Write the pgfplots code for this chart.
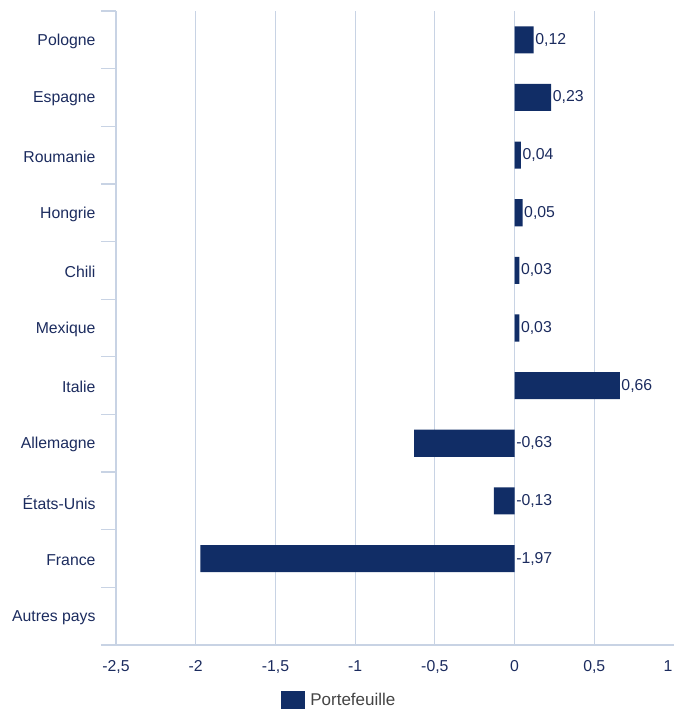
\documentclass[border=0pt]{standalone}
\usepackage{pgfplots}
\pgfplotsset{compat=1.18}
\usepackage{pgfplotstable}
\usepackage{fontspec}
\setmainfont{Liberation Sans}
\definecolor{barcol}{HTML}{112D66}
\definecolor{txtcol}{HTML}{1B2B5E}
\definecolor{gridcol}{HTML}{C8D3E4}
\definecolor{legtxt}{HTML}{444444}

\pgfplotstableread{
y val pos
10 0.12 0.12
9 0.23 0.23
8 0.04 0.04
7 0.05 0.05
6 0.03 0.03
5 0.03 0.03
4 0.66 0.66
3 -0.63 0
2 -0.13 0
1 -1.97 0
}\data

\begin{document}
\begin{tikzpicture}
\path[use as bounding box] (-116bp,-66bp) rectangle (559bp,645bp);
\begin{axis}[
  at={(0,0)}, anchor=south west,
  scale only axis, width=558bp, height=634bp,
  xmin=-2.5, xmax=1, ymin=-0.5, ymax=10.5,
  axis x line*=bottom, axis y line*=left,
  axis line style={gridcol, line width=1.2bp},
  xtick={-2.5,-2,-1.5,-1,-0.5,0,0.5,1},
  xticklabels={{-2,5},{-2},{-1,5},{-1},{-0,5},{0},{0,5},{\makebox[0pt][r]{1\hspace{1.5bp}}}},
  extra x ticks={-2,-1.5,-1,-0.5,0,0.5},
  extra x tick labels={},
  extra x tick style={grid=major, major grid style={gridcol, line width=1.2bp}, major tick length=0pt},
  ytick={0,1,2,3,4,5,6,7,8,9,10},
  yticklabels={Autres pays, France, États-Unis, Allemagne, Italie, Mexique, Chili, Hongrie, Roumanie, Espagne, Pologne},
  minor ytick={-0.5,0.5,1.5,2.5,3.5,4.5,5.5,6.5,7.5,8.5,9.5,10.5},
  major tick length=0pt,
  minor tick length=15bp,
  tick align=outside,
  ytick pos=left,
  xtick pos=bottom,
  tick style={gridcol, line width=1.2bp},
  ticklabel style={font=\fontsize{15.8bp}{19bp}\selectfont, text=txtcol},
  yticklabel style={xshift=-17bp, yshift=-1.5bp},
  xticklabel style={yshift=-12bp},
  legend style={at={(axis description cs:0.296,-0.0866)}, anchor=west, draw=none, fill=none, inner sep=0pt,
    font=\fontsize{17bp}{20bp}\selectfont, text=legtxt,
    nodes={inner xsep=5bp}},
  legend cell align=left,
  clip=false,
]
\addplot[xbar, bar width=0.47, fill=barcol, draw=none,
  legend image code/.code={\fill[barcol] (0bp,-9bp) rectangle (24bp,9bp);}]
  table[x=val, y=y] {\data};
\addlegendentry{Portefeuille}
\addplot[only marks, mark=none, forget plot, point meta=explicit,
  nodes near coords={\pgfmathprintnumber[fixed,fixed zerofill,precision=2,use comma,assume math mode=true]{\pgfplotspointmeta}},
  nodes near coords style={anchor=west, inner sep=1.5bp, font=\fontsize{15.8bp}{19bp}\selectfont, text=txtcol}]
  table[x=pos, y=y, meta=val] {\data};
\end{axis}
\end{tikzpicture}
\end{document}
